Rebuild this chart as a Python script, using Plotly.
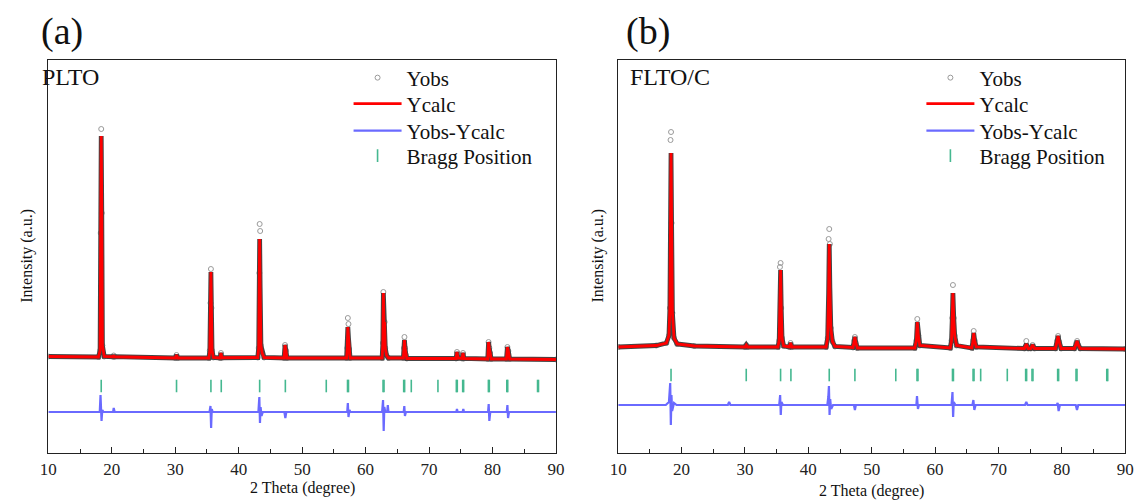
import plotly.graph_objects as go

FONT = "Liberation Serif"

# ---------------- Panel (a): PLTO ----------------
a_x = [10.0, 17.9, 18.15, 18.25, 18.33, 18.42, 18.52, 18.8, 20.2, 20.3, 20.4, 30.0, 30.2, 30.4,
       35.3, 35.45, 35.55, 35.62, 35.7, 35.8, 36.0, 37.05, 37.2, 37.35,
       43.0, 43.15, 43.25, 43.30, 43.38, 43.5, 43.7, 44.0, 47.15, 47.3, 47.45, 47.6,
       57.0, 57.12, 57.2, 57.3, 57.4, 57.55, 62.6, 62.72, 62.8, 62.9, 63.0, 63.1, 63.3, 63.6,
       65.95, 66.05, 66.12, 66.22, 66.35, 66.5, 74.25, 74.4, 74.55, 75.2, 75.35, 75.5,
       79.25, 79.38, 79.5, 79.62, 79.8, 82.2, 82.35, 82.5, 82.7, 90.0]
a_calc = [1930, 1920, 2050, 4400, 6340, 4800, 2150, 1930, 1925, 1950, 1925, 1900, 1960, 1900,
          1900, 2050, 3000, 3620, 2900, 2050, 1910, 1900, 2000, 1905,
          1910, 2100, 3600, 4280, 3300, 2150, 2000, 1910, 1900, 2160, 2050, 1900,
          1900, 2100, 2520, 2300, 2080, 1900, 1900, 2200, 3200, 2500, 2620, 2100, 1950, 1900,
          1900, 2100, 2260, 2100, 1960, 1890, 1890, 2020, 1900, 1890, 2000, 1890,
          1880, 2220, 2100, 2000, 1880, 1880, 2120, 2040, 1880, 1870]
a_obs = [1930, 1920, 2050, 4400, 6480, 4800, 2150, 1930, 1925, 1950, 1925, 1900, 1960, 1900,
         1900, 2050, 3000, 3680, 2900, 2050, 1910, 1900, 2000, 1905,
         1910, 2100, 3600, 4580, 4440, 2150, 2000, 1910, 1900, 2160, 2050, 1900,
         1900, 2100, 2700, 2580, 2080, 1900, 1900, 2200, 3220, 2500, 2620, 2100, 1950, 1900,
         1900, 2100, 2320, 2100, 1960, 1890, 1890, 2020, 1900, 1890, 2000, 1890,
         1880, 2220, 2100, 2000, 1880, 1880, 2120, 2040, 1880, 1870]
a_dx = [10.0, 18.1, 18.22, 18.3, 18.38, 18.5, 18.7, 20.2, 20.3, 20.45,
        35.4, 35.55, 35.65, 35.75, 35.9, 43.1, 43.25, 43.35, 43.45, 43.6, 43.8,
        47.2, 47.35, 47.5, 57.1, 57.2, 57.3, 57.45, 57.6,
        62.6, 62.75, 62.85, 62.95, 63.1, 63.4, 63.5, 63.6, 66.0, 66.1, 66.2, 66.35,
        74.3, 74.4, 74.5, 75.3, 75.4, 75.5, 79.3, 79.4, 79.5, 79.65,
        82.25, 82.35, 82.45, 82.6, 90.0]
a_diff = [0, 0, 340, -100, -180, 40, 0, 0, 80, 0,
          0, 120, -320, 60, 0, 0, 300, -220, 100, -80, 0,
          0, -120, 0, 0, 180, -100, 40, 0,
          0, 240, -380, 100, 0, 0, 140, 0, 0, 120, -80, 0,
          0, 60, 0, 0, 60, 0, 0, 160, -180, 0,
          0, 140, -120, 0, 0]

# ---------------- Panel (b): FLTO/C ----------------
b_x = [10.0, 16.0, 17.6, 18.0, 18.15, 18.25, 18.33, 18.42, 18.55, 18.8, 19.3, 22.0, 30.0, 30.2, 30.4,
       35.2, 35.4, 35.52, 35.62, 35.72, 35.85, 36.1, 37.0, 37.2, 37.4,
       42.8, 43.05, 43.2, 43.3, 43.4, 43.55, 43.8, 44.2, 47.05, 47.25, 47.35, 47.5, 47.75,
       56.8, 57.05, 57.2, 57.35, 57.6, 62.4, 62.6, 62.72, 62.82, 62.95, 63.1, 63.4,
       65.8, 66.0, 66.1, 66.25, 66.5, 74.1, 74.4, 74.7, 75.1, 75.4, 75.7,
       79.0, 79.3, 79.42, 79.6, 79.9, 82.0, 82.3, 82.42, 82.6, 82.9, 90.0]
b_calc = [2120, 2150, 2200, 2350, 2900, 4800, 6000, 4600, 2800, 2300, 2180, 2140, 2120, 2160, 2120,
          2120, 2250, 3000, 3660, 2900, 2300, 2140, 2120, 2200, 2120,
          2120, 2300, 3200, 4180, 3300, 2500, 2230, 2130, 2110, 2250, 2320, 2200, 2100,
          2100, 2250, 2620, 2350, 2150, 2100, 2250, 2700, 3200, 2700, 2350, 2150,
          2100, 2250, 2400, 2250, 2120, 2090, 2180, 2090, 2090, 2160, 2090,
          2090, 2250, 2340, 2220, 2090, 2090, 2200, 2240, 2160, 2090, 2080]
b_obs = [2120, 2150, 2200, 2350, 2900, 6260, 6420, 4600, 2800, 2300, 2180, 2140, 2120, 2160, 2120,
         2120, 2250, 3720, 3800, 2900, 2300, 2140, 2120, 2200, 2120,
         2120, 2300, 4280, 4480, 4180, 2500, 2230, 2130, 2110, 2250, 2320, 2200, 2100,
         2100, 2250, 2680, 2350, 2150, 2100, 2250, 2700, 3360, 2700, 2350, 2150,
         2100, 2250, 2440, 2250, 2120, 2090, 2240, 2090, 2090, 2160, 2090,
         2090, 2250, 2340, 2220, 2090, 2090, 2200, 2240, 2160, 2090, 2080]
b_dx = [10.0, 17.5, 18.0, 18.2, 18.3, 18.4, 18.5, 18.8, 19.2, 27.3, 27.5, 27.7,
        35.4, 35.55, 35.65, 35.75, 36.0, 43.0, 43.15, 43.25, 43.35, 43.45, 43.6, 43.9,
        47.2, 47.35, 47.5, 57.05, 57.15, 57.3, 57.45, 62.6, 62.75, 62.85, 62.95, 63.2,
        65.9, 66.05, 66.2, 66.4, 74.2, 74.4, 74.6, 79.2, 79.35, 79.5, 79.7,
        82.2, 82.4, 82.6, 90.0]
b_diff = [0, 0, 60, 440, -400, 200, -120, 40, 0, 0, 60, 0,
          0, 200, -200, 60, 0, 0, 160, 380, -200, 120, -80, 0,
          0, -100, 0, 0, 180, -80, 0, 0, 260, -240, 60, 0,
          0, 100, -100, 0, 0, 60, 0, 0, 40, -120, 0,
          0, -100, 0, 0]

# Bragg reflection positions (same phase in both samples)
bragg_pos = [18.33, 30.2, 35.62, 37.25, 43.3, 47.35, 53.8, 57.15, 57.3, 62.75, 62.9,
             66.0, 66.15, 67.2, 71.4, 74.3, 74.45, 75.3, 75.45, 79.35, 79.5,
             82.25, 82.4, 87.1, 87.25]

panel_labels = ["(a)", "(b)"]
sample_names = ["PLTO", "FLTO/C"]
x_ticks = [10, 20, 30, 40, 50, 60, 70, 80, 90]

# ---------------- styling / placement ----------------
W, H = 1143, 500
RED = "#ff0000"
BLUE = "#6a6aff"
GREEN = "#45b890"
GRAY = "#9a9a9a"

def px_x(p):
    return p / W

def px_y(p):
    return (H - p) / H

panels = [
    dict(x=a_x, calc=a_calc, obs=a_obs, dx=a_dx, diff=a_diff, diff_off=820, bragg_y=1340,
         xa="x", ya="y", dom=(40, 555.7), leg_x=345, lab_dx=-10, name_dx=-9),
    dict(x=b_x, calc=b_calc, obs=b_obs, dx=b_dx, diff=b_diff, diff_off=960, bragg_y=1560,
         xa="x2", ya="y2", dom=(619, 1134), leg_x=927, lab_dx=6, name_dx=10),
]
leg_rows = [78, 104, 131, 156]

fig = go.Figure()
legends = {}
for i, p in enumerate(panels):
    names = []
    for k in range(4):
        nm = "legend" if (i == 0 and k == 0) else "legend%d" % (i * 4 + k + 1)
        names.append(nm)
        legends[nm] = dict(x=px_x(p["leg_x"]), y=px_y(leg_rows[k]), xanchor="left",
                           yanchor="middle", font=dict(family=FONT, size=21, color="#111"),
                           bgcolor="rgba(0,0,0,0)", borderwidth=0, itemwidth=48)
    common = dict(xaxis=p["xa"], yaxis=p["ya"])
    fig.add_trace(go.Scatter(x=p["x"], y=p["obs"], mode="markers", name="Yobs", legend=names[0],
                             marker=dict(symbol="circle-open", size=5, color=GRAY,
                                         line=dict(width=1, color=GRAY)),
                             **common))
    fig.add_trace(go.Scatter(x=p["x"], y=p["calc"], mode="lines", showlegend=False,
                             line=dict(color="#444444", width=4.8), hoverinfo="skip",
                             **common))
    fig.add_trace(go.Scatter(x=p["x"], y=p["calc"], mode="lines", name="Ycalc", legend=names[1],
                             line=dict(color=RED, width=2.8), **common))
    fig.add_trace(go.Scatter(x=p["dx"], y=[v + p["diff_off"] for v in p["diff"]],
                             mode="lines", name="Yobs-Ycalc", legend=names[2],
                             line=dict(color=BLUE, width=2.2), **common))
    fig.add_trace(go.Scatter(x=bragg_pos, y=[p["bragg_y"]] * len(bragg_pos), mode="markers",
                             name="Bragg Position", legend=names[3],
                             marker=dict(symbol="line-ns", size=9, color=GREEN,
                                         line=dict(width=1.6, color=GREEN)),
                             **common))

ydom = [px_y(453), px_y(60)]
xcommon = dict(range=[10, 90], tickvals=x_ticks, ticks="inside", ticklen=6, tickwidth=1.2,
               tickcolor="#222", showline=True, linecolor="#222", linewidth=1.3, mirror=True,
               showgrid=False, zeroline=False,
               tickfont=dict(family=FONT, size=17, color="#222"),
               minor=dict(ticks="inside", dtick=5, ticklen=4, tickwidth=1.2, tickcolor="#222"))
ycommon = dict(range=[0, 7860], showticklabels=False, ticks="", showline=True,
               linecolor="#222", linewidth=1.3, mirror=True, showgrid=False, zeroline=False,
               domain=ydom)

fig.update_layout(
    width=W, height=H, margin=dict(l=0, r=0, t=0, b=0),
    font=dict(family=FONT, color="#111"),
    paper_bgcolor="white", plot_bgcolor="white",
    xaxis=dict(domain=[px_x(40), px_x(555.7)], anchor="y", **xcommon),
    yaxis=dict(anchor="x", **ycommon),
    xaxis2=dict(domain=[px_x(619), px_x(1134)], anchor="y2", **xcommon),
    yaxis2=dict(anchor="x2", **ycommon),
    showlegend=True,
    **legends,
)

ann = []
for i, p in enumerate(panels):
    left = p["dom"][0]
    right = p["dom"][1]
    ann.append(dict(text=panel_labels[i], x=px_x(left + p["lab_dx"]), y=px_y(31),
                    xref="paper", yref="paper", xanchor="left", yanchor="middle",
                    showarrow=False, font=dict(family=FONT, size=38, color="#111")))
    ann.append(dict(text=sample_names[i], x=px_x(left + p["name_dx"]), y=px_y(77),
                    xref="paper", yref="paper", xanchor="left", yanchor="middle",
                    showarrow=False, font=dict(family=FONT, size=24, color="#111")))
    ann.append(dict(text="2 Theta (degree)", x=px_x((left + right) / 2),
                    y=px_y(488 if i == 0 else 491),
                    xref="paper", yref="paper", xanchor="center", yanchor="middle",
                    showarrow=False, font=dict(family=FONT, size=16, color="#111")))
    ann.append(dict(text="Intensity (a.u.)", x=px_x(18 if i == 0 else 598), y=px_y(256),
                    xref="paper", yref="paper", xanchor="center", yanchor="middle",
                    textangle=-90, showarrow=False, font=dict(family=FONT, size=16, color="#111")))
fig.update_layout(annotations=ann)

fig.write_html("out.html", config={"displayModeBar": False},
               post_script="document.body.style.margin='0px';document.body.style.overflow='hidden';")
